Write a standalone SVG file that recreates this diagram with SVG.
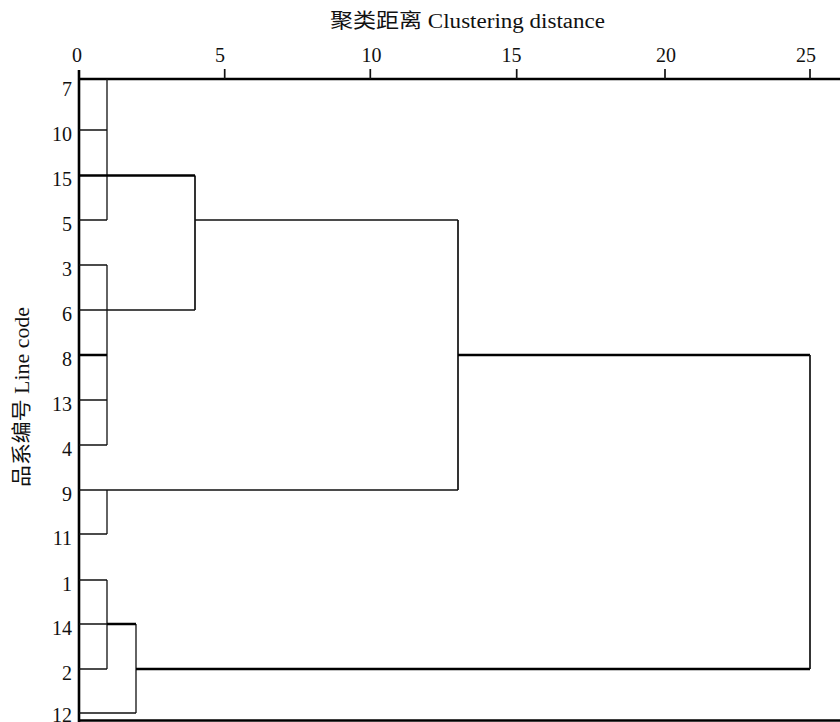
<svg xmlns="http://www.w3.org/2000/svg" width="840" height="722" viewBox="0 0 840 722">
<style>
text{font-family:"Liberation Serif","Noto Sans CJK SC",serif;fill:#111}
.tick{font-size:20px;text-anchor:middle}
.leaf{font-size:20px;text-anchor:end}
.title{font-size:20px}
.thin{stroke:#111;stroke-width:1.3;fill:none}
.mid{stroke:#111;stroke-width:1.7;fill:none}
.thick{stroke:#000;stroke-width:2.6;fill:none}
</style>
<rect width="840" height="722" fill="#fff"/>
<g id="axis">
<path class="thick" d="M79,79H840M79,70V722M79,720.5H840"/>
<path class="mid" d="M224.7,69V79M370.3,69V79M516.7,69V79M665,69V79M810,69V79" stroke-width="2"/>
<text class="tick" x="77" y="62">0</text>
<text class="tick" x="220" y="62">5</text>
<text class="tick" x="371.5" y="62">10</text>
<text class="tick" x="511.5" y="62">15</text>
<text class="tick" x="666" y="62">20</text>
<text class="tick" x="806" y="62">25</text>
<text class="title" x="330" y="28" textLength="275" lengthAdjust="spacingAndGlyphs">聚类距离 Clustering distance</text>
<text class="title" transform="translate(29,397) rotate(-90)" text-anchor="middle" textLength="180" lengthAdjust="spacingAndGlyphs">品系编号 Line code</text>
</g>
<g id="leaf-7"><text class="leaf" x="72" y="96">7</text></g>
<g id="leaf-10"><text class="leaf" x="72" y="140.5">10</text></g>
<g id="leaf-15"><text class="leaf" x="72" y="186">15</text></g>
<g id="leaf-5"><text class="leaf" x="72" y="230.5">5</text></g>
<g id="leaf-3"><text class="leaf" x="72" y="275.5">3</text></g>
<g id="leaf-6"><text class="leaf" x="72" y="320.5">6</text></g>
<g id="leaf-8"><text class="leaf" x="72" y="365.5">8</text></g>
<g id="leaf-13"><text class="leaf" x="72" y="410.5">13</text></g>
<g id="leaf-4"><text class="leaf" x="72" y="455.5">4</text></g>
<g id="leaf-9"><text class="leaf" x="72" y="500.5">9</text></g>
<g id="leaf-11"><text class="leaf" x="72" y="544.5">11</text></g>
<g id="leaf-1"><text class="leaf" x="72" y="590.5">1</text></g>
<g id="leaf-14"><text class="leaf" x="72" y="634.5">14</text></g>
<g id="leaf-2"><text class="leaf" x="72" y="679.5">2</text></g>
<g id="leaf-12"><text class="leaf" x="72" y="722">12</text></g>
<g id="connectors">
<path class="thin" d="M79,130H107M79,220H107M107,79V220M79,265H107M79,310H195M79,400H107M79,445H107M107,265V445M79,534H107M107,490V534M79,580H107M79,669H107M107,580V669M79,624H107M79,713H136M136,624V713"/>
<path class="mid" d="M79,490H458M195,175.5V310M195,220H458M458,220V490"/>
<path class="thick" d="M79,175.5H195M79,355H107M458,355H810M107,624H136M136,669H810"/>
<path class="mid" d="M810,355V669" stroke-width="2.2"/>
</g>
</svg>
